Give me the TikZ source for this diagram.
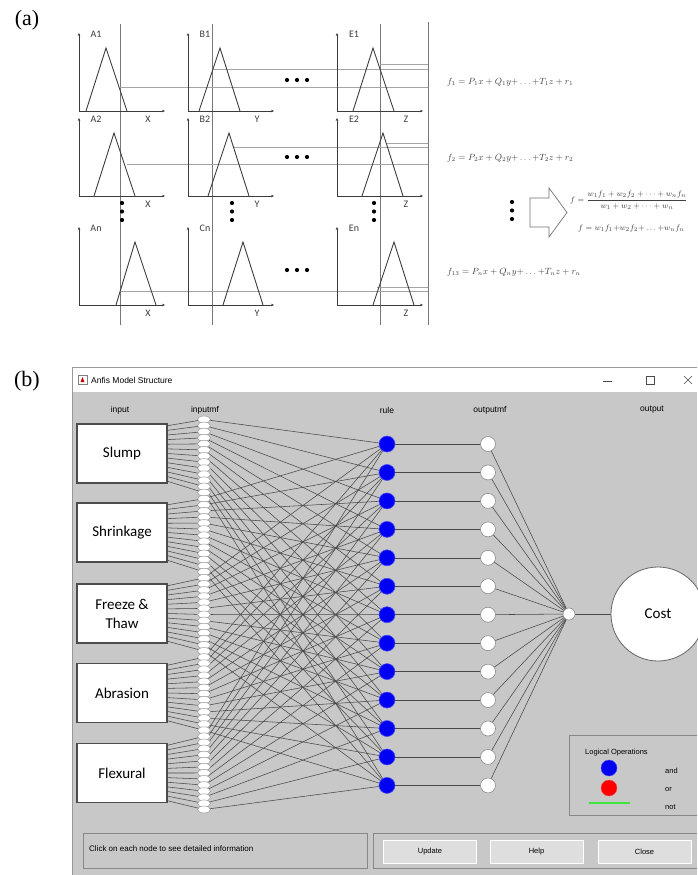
\documentclass[tikz,border=0pt]{standalone}
\usepackage{fontspec}
\setmainfont{Liberation Serif}
\newfontfamily\guifont{Liberation Sans}
\newfontfamily\calfont{Carlito}
\usetikzlibrary{arrows.meta,calc,shapes.geometric}
\pgfdeclarelayer{back}
\pgfdeclarelayer{wires}
\pgfsetlayers{back,wires,main}
\definecolor{wingray}{RGB}{200,200,200}
\definecolor{wirec}{RGB}{72,72,72}
\definecolor{axisc}{RGB}{60,60,60}
\definecolor{guidec}{RGB}{165,165,165}
\definecolor{vlinec}{RGB}{120,120,120}
\definecolor{ruleblue}{RGB}{0,0,245}
\definecolor{btnc}{RGB}{222,222,222}
\definecolor{etchc}{RGB}{135,135,135}
\definecolor{notgreen}{RGB}{60,230,60}
\tikzset{
 lbl/.style={font=\calfont\fontsize{10}{11}\selectfont, text=axisc, inner sep=0},
 axline/.style={draw=axisc, line width=0.8pt, -{Stealth[length=3pt,width=2.6pt]}},
 tri/.style={draw=axisc, line width=0.9pt, line join=miter},
 vl/.style={draw=vlinec, line width=0.6pt},
 gl/.style={draw=guidec, line width=0.5pt},
 dotc/.style={fill=black, draw=none},
 formula/.style={font=\fontsize{9}{10}\selectfont, text=black!75, inner sep=0, anchor=west},
 hdr/.style={font=\guifont\fontsize{8.5}{9}\selectfont, inner sep=0},
 inbox/.style={draw=black!70, line width=1.2pt, fill=white, minimum width=90pt, minimum height=59pt, font=\calfont\fontsize{15}{19}\selectfont, align=center, inner sep=0},
 mfnode/.style={ellipse, draw=black!40, fill=white, line width=0.5pt, minimum width=13pt, minimum height=7pt, inner sep=0},
 rulenode/.style={circle, fill=ruleblue, draw=ruleblue!70!white, line width=0.6pt, minimum size=16pt, inner sep=0},
 omfnode/.style={circle, fill=white, draw=black!45, line width=0.6pt, minimum size=15pt, inner sep=0},
 wire/.style={draw=wirec, line width=0.55pt},
 btnbox/.style={fill=btnc, draw=white, line width=0.8pt, minimum width=93pt, minimum height=23pt, font=\guifont\fontsize{7.5}{8}\selectfont, inner sep=0},
 etched/.style={draw=etchc, line width=0.8pt},
 smalltxt/.style={font=\guifont\fontsize{7.5}{8}\selectfont, inner sep=0},
}
\begin{document}
\begin{tikzpicture}[x=1pt,y=-1pt]
\useasboundingbox (0,0) rectangle (697,875);

\begin{pgfonlayer}{back}
 \fill[white] (0,0) rectangle (697,875);
 \fill[wingray] (72,367) rectangle (697,875);
 \fill[white] (73,368) rectangle (697,392);
 \draw[draw=black!40, line width=0.6pt] (72,875) -- (72,367) -- (697,367);
\end{pgfonlayer}

% ---------------- (a) ----------------
\node[font=\fontsize{22}{24}\selectfont, inner sep=0] (labA) at (27,20) {(a)};

\draw[vl] (120,24) -- (120,325);
\draw[vl] (212,24) -- (212,325);
\draw[vl] (380,24) -- (380,325);
\draw[vl] (428,22) -- (428,325);

\draw[gl] (120,87) -- (428,87);
\draw[gl] (213,69) -- (428,69);
\draw[gl] (380,64) -- (428,64);
\draw[gl] (127,164) -- (428,164);
\draw[gl] (233,147) -- (428,147);
\draw[gl] (387,143) -- (428,143);
\draw[gl] (120,291) -- (428,291);
\draw[gl] (377,287) -- (428,287);

\foreach \ox/\oy/\lab/\axl/\ba/\px/\bb [count=\c] in
 {79/111/A1/X/86/106/127, 188/111/B1/Y/199/220/240, 337/111/E1/Z/353/373/394,
  79/196/A2/X/94/114/135, 188/196/B2/Y/208/229/249, 337/196/E2/Z/362/383/403,
  79/305/An/X/116/135/156, 188/305/Cn/Y/223/243/263, 337/305/En/Z/373/394/414}
{
 \coordinate (o\c) at (\ox,\oy);
 \draw[axline] (o\c) -- ++(0,-78);
 \draw[axline] (o\c) -- ++(86,0);
 \draw[tri] (\ba,\oy) -- (\px,\oy-63) -- (\bb,\oy);
 \node[lbl] (ml\c) at (\ox+17,\oy-77) {\lab};
 \node[lbl] (al\c) at (\ox+69,\oy+8) {\axl};
}

% horizontal dots
\foreach \yy in {80,157,270}{
 \foreach \xx in {287,297,307}{ \fill[dotc] (\xx,\yy) circle (2.1pt); }
}
% vertical dots
\foreach \xx in {122,232,374}{
 \foreach \yy in {203,211.5,220}{ \fill[dotc] (\xx,\yy) circle (2.1pt); }
}
\foreach \yy in {202,210.5,219}{ \fill[dotc] (512,\yy) circle (2.1pt); }

% big outline arrow
\draw[draw=black!55, line width=0.7pt, line join=miter]
 (530,198) -- (549,198) -- (549,188) -- (567,212.5) -- (549,237) -- (549,227) -- (530,227) -- cycle;

\node[formula] (f1) at (447,82) {$f_1 = P_1x + Q_1y{+}\dots{+}T_1z + r_1$};
\node[formula] (f2) at (447,158) {$f_2 = P_2x + Q_2y{+}\dots{+}T_2z + r_2$};
\node[formula] (f13) at (447,272) {$f_{13} = P_nx + Q_ny{+}\dots{+}T_nz + r_n$};
\node[formula, font=\fontsize{8}{9}\selectfont] (fa) at (570,200)
 {$\displaystyle f = \frac{w_1f_1 + w_2f_2 + \cdots + w_nf_n}{w_1 + w_2 + \cdots + w_n}$};
\node[formula, font=\fontsize{8}{9}\selectfont] (fb) at (578,228)
 {$f = w_1f_1 {+} w_2f_2 {+}\dots{+} w_nf_n$};

% ---------------- (b) ----------------
\node[font=\fontsize{22}{24}\selectfont, inner sep=0] (labB) at (27,381) {(b)};

% title bar
\draw[draw=black!50, fill=white, line width=0.5pt] (78,375) rectangle (87,384);
\fill[red!80!black] (80.5,382) -- (82.5,377) -- (84.5,382) -- cycle;
\node[hdr, anchor=west] (title) at (91,380) {Anfis Model Structure};
\draw[black!70, line width=0.6pt] (603,381) -- (612,381);
\draw[black!70, line width=0.6pt] (646,376) rectangle (654,384);
\draw[black!70, line width=0.6pt] (684,376) -- (692,384) (692,376) -- (684,384);

% headers
\node[hdr] (hin) at (120,410) {input};
\node[hdr] (hmf) at (205,410) {inputmf};
\node[hdr] (hrule) at (387,410) {rule};
\node[hdr] (homf) at (490,410) {outputmf};
\node[hdr] (hout) at (652,410) {output};

% input boxes
\node[inbox] (in0) at (122,453.5) {Slump};
\node[inbox] (in1) at (122,532.5) {Shrinkage};
\node[inbox] (in2) at (122,613.5) {Freeze \&\\Thaw};
\node[inbox] (in3) at (122,693) {Abrasion};
\node[inbox] (in4) at (122,773) {Flexural};

% input membership functions
\foreach \i in {0,...,4}{
 \foreach \m in {0,...,12}{
  \pgfmathsetmacro\yy{419.5+(\i*13+\m)*6.094}
  \node[mfnode] (mf-\i-\m) at (204,\yy) {};
 }
}

% rules and output mfs
\foreach \m in {0,...,12}{
 \pgfmathsetmacro\yy{444+\m*28.45}
 \node[rulenode] (r-\m) at (387,\yy) {};
 \node[omfnode] (o-\m) at (488,\yy) {};
}
\node[circle, fill=white, draw=black!45, line width=0.6pt, minimum size=12pt, inner sep=0] (agg) at (569,614) {};
\node[circle, fill=white, draw=black!60, line width=0.8pt, minimum size=94pt, inner sep=0,
      font=\calfont\fontsize{15}{18}\selectfont] (cost) at (658,614) {Cost};

\begin{pgfonlayer}{wires}
 \foreach \i in {0,...,4}{
  \foreach \m in {0,...,12}{
   \pgfmathsetmacro\t{(\m+0.5)/13}
   \draw[wire] ($(in\i.north east)!\t!(in\i.south east)$) -- (mf-\i-\m.center);
   \draw[wire] (mf-\i-\m.center) -- (r-\m.center);
  }
 }
 \foreach \m in {0,...,12}{
  \draw[wire] (r-\m.center) -- (o-\m.center);
  \draw[wire] (o-\m.center) -- (agg.center);
 }
 \draw[wire] (agg.center) -- (cost.center);
\end{pgfonlayer}

% legend
\draw[etched] (697,735) -- (569,735) -- (569,815) -- (697,815);
\node[smalltxt, anchor=west] (legt) at (585,753) {Logical Operations};
\node[circle, fill=ruleblue, draw=ruleblue!70!white, minimum size=16pt, inner sep=0] (legand) at (609,768) {};
\node[circle, fill=red, draw=red!70!white, minimum size=16pt, inner sep=0] (legor) at (609,788) {};
\draw[notgreen, line width=1.2pt] (589,803) -- (630,803);
\node[smalltxt, anchor=west] (land) at (665,771) {and};
\node[smalltxt, anchor=west] (lor) at (665,790) {or};
\node[smalltxt, anchor=west] (lnot) at (665,807) {not};

% bottom panels
\draw[etched] (83,833) rectangle (367,868);
\node[smalltxt, font=\guifont\fontsize{8}{9}\selectfont, anchor=west] (info) at (89,849) {Click on each node to see detailed information};
\draw[etched] (373,833) -- (697,833) (697,868) -- (373,868) -- (373,833);
\node[btnbox] (bupd) at (430,851.5) {Update};
\node[btnbox] (bhelp) at (536.5,851.5) {Help};
\node[btnbox] (bclose) at (644.5,851.5) {Close};
\end{tikzpicture}
\end{document}
